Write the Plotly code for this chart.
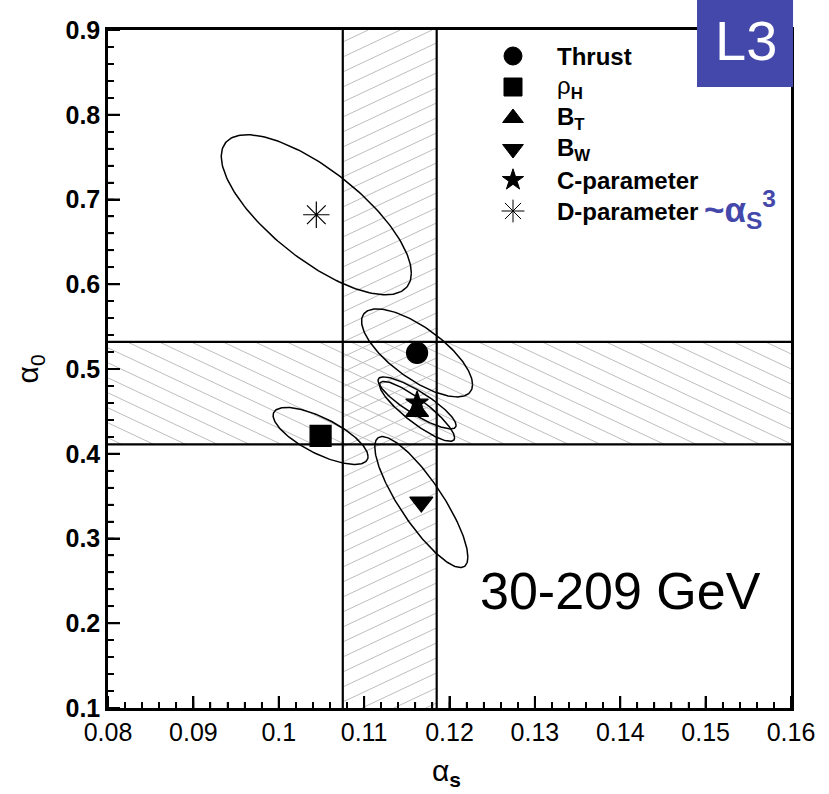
import numpy as np
import plotly.graph_objects as go

# ---- data -------------------------------------------------------------
X_RANGE = [0.08, 0.16]
Y_RANGE = [0.1, 0.9]

observables = ["Thrust", "rho_H", "B_T", "B_W", "C-parameter", "D-parameter"]
legend_labels = ["<b>Thrust</b>", "ρ<sub><b>H</b></sub>", "<b>B<sub>T</sub></b>",
                 "<b>B<sub>W</sub></b>", "<b>C-parameter</b>", "<b>D-parameter</b>"]
symbols = ["circle", "square", "triangle-up", "triangle-down", "star", "asterisk-open"]
marker_sizes = [21, 21, 20, 20, 17, 22]

alpha_s = [0.1162, 0.1049, 0.1162, 0.1167, 0.1162, 0.1044]
alpha_0 = [0.519, 0.421, 0.450, 0.343, 0.460, 0.682]
# half-extents of the 1-sigma contours and correlation coefficient
ext_alpha_s = [0.0065, 0.00556, 0.0044, 0.00545, 0.00457, 0.01113]
ext_alpha_0 = [0.0519, 0.0336, 0.0354, 0.0773, 0.0307, 0.0944]
corr = [-0.72, -0.72, -0.88, -0.84, -0.86, -0.73]

# combined bands
alpha_s_band = [0.1075, 0.1185]
alpha_0_band = [0.411, 0.532]

x_dtick, x_minor = 0.01, 0.002
y_dtick, y_minor = 0.1, 0.02

# ---- geometry ---------------------------------------------------------
W, H = 829, 794
ML, MR, MT, MB = 108, 38, 30, 86
PW, PH = W - ML - MR, H - MT - MB
FONT = "Liberation Sans"
BLUE = "rgb(67,72,170)"


def to_px(x, y):
    return (ML + (x - X_RANGE[0]) / (X_RANGE[1] - X_RANGE[0]) * PW,
            MT + (Y_RANGE[1] - y) / (Y_RANGE[1] - Y_RANGE[0]) * PH)


def to_data(X, Y):
    return (X_RANGE[0] + (X - ML) / PW * (X_RANGE[1] - X_RANGE[0]),
            Y_RANGE[1] - (Y - MT) / PH * (Y_RANGE[1] - Y_RANGE[0]))


def hatch(x0, x1, y0, y1, rising, slope=0.47, gap=15.0):
    """Diagonal hatch lines clipped to a data rectangle."""
    X0, Yb = to_px(x0, y0)
    X1, Ya = to_px(x1, y1)
    s = -slope if rising else slope
    cs = [Y - s * X for X in (X0, X1) for Y in (Ya, Yb)]
    xs, ys = [], []
    for c in np.arange(min(cs) - 3.0, max(cs) + gap, gap):
        xa, xb = (Ya - c) / s, (Yb - c) / s
        lo, hi = max(X0, min(xa, xb)), min(X1, max(xa, xb))
        if hi - lo < 0.5:
            continue
        for X in (lo, hi):
            dx, dy = to_data(X, c + s * X)
            xs.append(dx)
            ys.append(dy)
        xs.append(None)
        ys.append(None)
    return xs, ys


def contour(cx, cy, hx, hy, rho, n=200):
    t = np.linspace(0, 2 * np.pi, n)
    return (cx + hx * np.cos(t),
            cy + hy * (rho * np.cos(t) + np.sqrt(1 - rho ** 2) * np.sin(t)))


def tick_marks(step, lo, hi, length_px, along_x):
    """Inward tick segments on the bottom (along_x) or left axis."""
    n = int(round((hi - lo) / step))
    xs, ys = [], []
    for k in range(n + 1):
        v = lo + k * step
        if along_x:
            _, y_end = to_data(0, MT + PH - length_px)
            xs += [v, v, None]
            ys += [Y_RANGE[0], y_end, None]
        else:
            x_end, _ = to_data(ML + length_px, 0)
            xs += [X_RANGE[0], x_end, None]
            ys += [v, v, None]
    return xs, ys


fig = go.Figure()

# hatched bands
hx_v, hy_v = hatch(alpha_s_band[0], alpha_s_band[1], Y_RANGE[0], Y_RANGE[1], rising=True)
hx_h, hy_h = hatch(X_RANGE[0], X_RANGE[1], alpha_0_band[0], alpha_0_band[1], rising=False)
for xs, ys in ((hx_v, hy_v), (hx_h, hy_h)):
    fig.add_trace(go.Scatter(x=xs, y=ys, mode="lines", hoverinfo="skip",
                             line=dict(color="rgb(190,190,190)", width=1),
                             showlegend=False))

# band borders
for xv in alpha_s_band:
    fig.add_trace(go.Scatter(x=[xv, xv], y=Y_RANGE, mode="lines", hoverinfo="skip",
                             line=dict(color="black", width=2.2), showlegend=False))
for yv in alpha_0_band:
    fig.add_trace(go.Scatter(x=X_RANGE, y=[yv, yv], mode="lines", hoverinfo="skip",
                             line=dict(color="black", width=2.2), showlegend=False))

# inward tick marks on the bottom and left axes
for step, length, width in ((x_minor, 6, 1.5), (x_dtick, 12, 2)):
    tx, ty = tick_marks(step, X_RANGE[0], X_RANGE[1], length, along_x=True)
    fig.add_trace(go.Scatter(x=tx, y=ty, mode="lines", hoverinfo="skip",
                             line=dict(color="black", width=width), showlegend=False))
for step, length, width in ((y_minor, 6, 1.5), (y_dtick, 12, 2)):
    tx, ty = tick_marks(step, Y_RANGE[0], Y_RANGE[1], length, along_x=False)
    fig.add_trace(go.Scatter(x=tx, y=ty, mode="lines", hoverinfo="skip",
                             line=dict(color="black", width=width), showlegend=False))

# error contours
for i in range(len(observables)):
    ex, ey = contour(alpha_s[i], alpha_0[i], ext_alpha_s[i], ext_alpha_0[i], corr[i])
    fig.add_trace(go.Scatter(x=ex, y=ey, mode="lines", hoverinfo="skip",
                             line=dict(color="black", width=1.5), showlegend=False))

# central values
for i in range(len(observables)):
    fig.add_trace(go.Scatter(
        x=[alpha_s[i]], y=[alpha_0[i]], mode="markers", name=observables[i],
        marker=dict(symbol=symbols[i], size=marker_sizes[i], color="black",
                    line=dict(color="black", width=1.2)),
        showlegend=False))

# legend: symbols and labels placed in plot-area pixels
leg_sym_px = 513
leg_txt_px = 555
leg_top_px = 56
leg_step_px = 31
leg_sizes = [18, 18, 18, 18, 16, 19]
annotations = []
for k, lab in enumerate(legend_labels):
    row_px = leg_top_px + k * leg_step_px
    lx, ly = to_data(leg_sym_px, row_px)
    fig.add_trace(go.Scatter(
        x=[lx], y=[ly], mode="markers", hoverinfo="skip", showlegend=False,
        marker=dict(symbol=symbols[k], size=leg_sizes[k], color="black",
                    line=dict(color="black", width=1))))
    tx, ty = to_data(leg_txt_px, row_px)
    annotations.append(dict(x=tx, y=ty, xref="x", yref="y",
                            text=lab, showarrow=False, xanchor="left", yanchor="middle",
                            font=dict(family=FONT, size=24, color="black")))

# "~ alpha_s^3" note
annotations.append(dict(x=0.870, y=0.735, xref="paper", yref="paper",
                        text="<b>~α<sub>S</sub><sup>3</sup></b>", showarrow=False,
                        xanchor="left", yanchor="middle",
                        font=dict(family=FONT, size=35, color=BLUE)))

# energy range
annotations.append(dict(x=0.751, y=0.172, xref="paper", yref="paper",
                        text="30-209 GeV", showarrow=False,
                        xanchor="center", yanchor="middle",
                        font=dict(family=FONT, size=52, color="black")))

# experiment tag
annotations.append(dict(x=0.9345, y=0.9845, xref="paper", yref="paper",
                        text="L3", showarrow=False, xanchor="center", yanchor="middle",
                        font=dict(family=FONT, size=56, color="white")))

# axis titles
annotations.append(dict(x=-0.115, y=0.50, xref="paper", yref="paper",
                        text="α<sub>0</sub>", showarrow=False, textangle=-90,
                        xanchor="center", yanchor="middle",
                        font=dict(family=FONT, size=30, color="black")))
annotations.append(dict(x=0.496, y=-0.095, xref="paper", yref="paper",
                        text="α<sub><b>s</b></sub>", showarrow=False,
                        xanchor="center", yanchor="middle",
                        font=dict(family=FONT, size=30, color="black")))

shapes = [dict(type="rect", xref="paper", yref="paper",
               x0=0.8624, x1=1.003, y0=0.916, y1=1.05,
               fillcolor=BLUE, line=dict(width=0), layer="above")]

fig.update_layout(
    width=W, height=H,
    margin=dict(l=ML, r=MR, t=MT, b=MB),
    plot_bgcolor="white",
    showlegend=False,
    annotations=annotations,
    shapes=shapes,
    xaxis=dict(range=X_RANGE, dtick=x_dtick,
               showgrid=False,
               showline=True, linecolor="black", linewidth=2.5, mirror=True,
               ticks="inside", ticklen=12, tickwidth=2, tickcolor="black",
               tickfont=dict(family=FONT, size=25, color="black"),
               minor=dict(dtick=x_minor, ticks="inside", ticklen=6)),
    yaxis=dict(range=Y_RANGE, dtick=y_dtick,
               showgrid=False,
               showline=True, linecolor="black", linewidth=2.5, mirror=True,
               ticks="inside", ticklen=12, tickwidth=2, tickcolor="black",
               tickfont=dict(family=FONT, size=25, color="black", weight="bold"),
               minor=dict(dtick=y_minor, ticks="inside", ticklen=6)),
)

fig.write_html("out.html")
